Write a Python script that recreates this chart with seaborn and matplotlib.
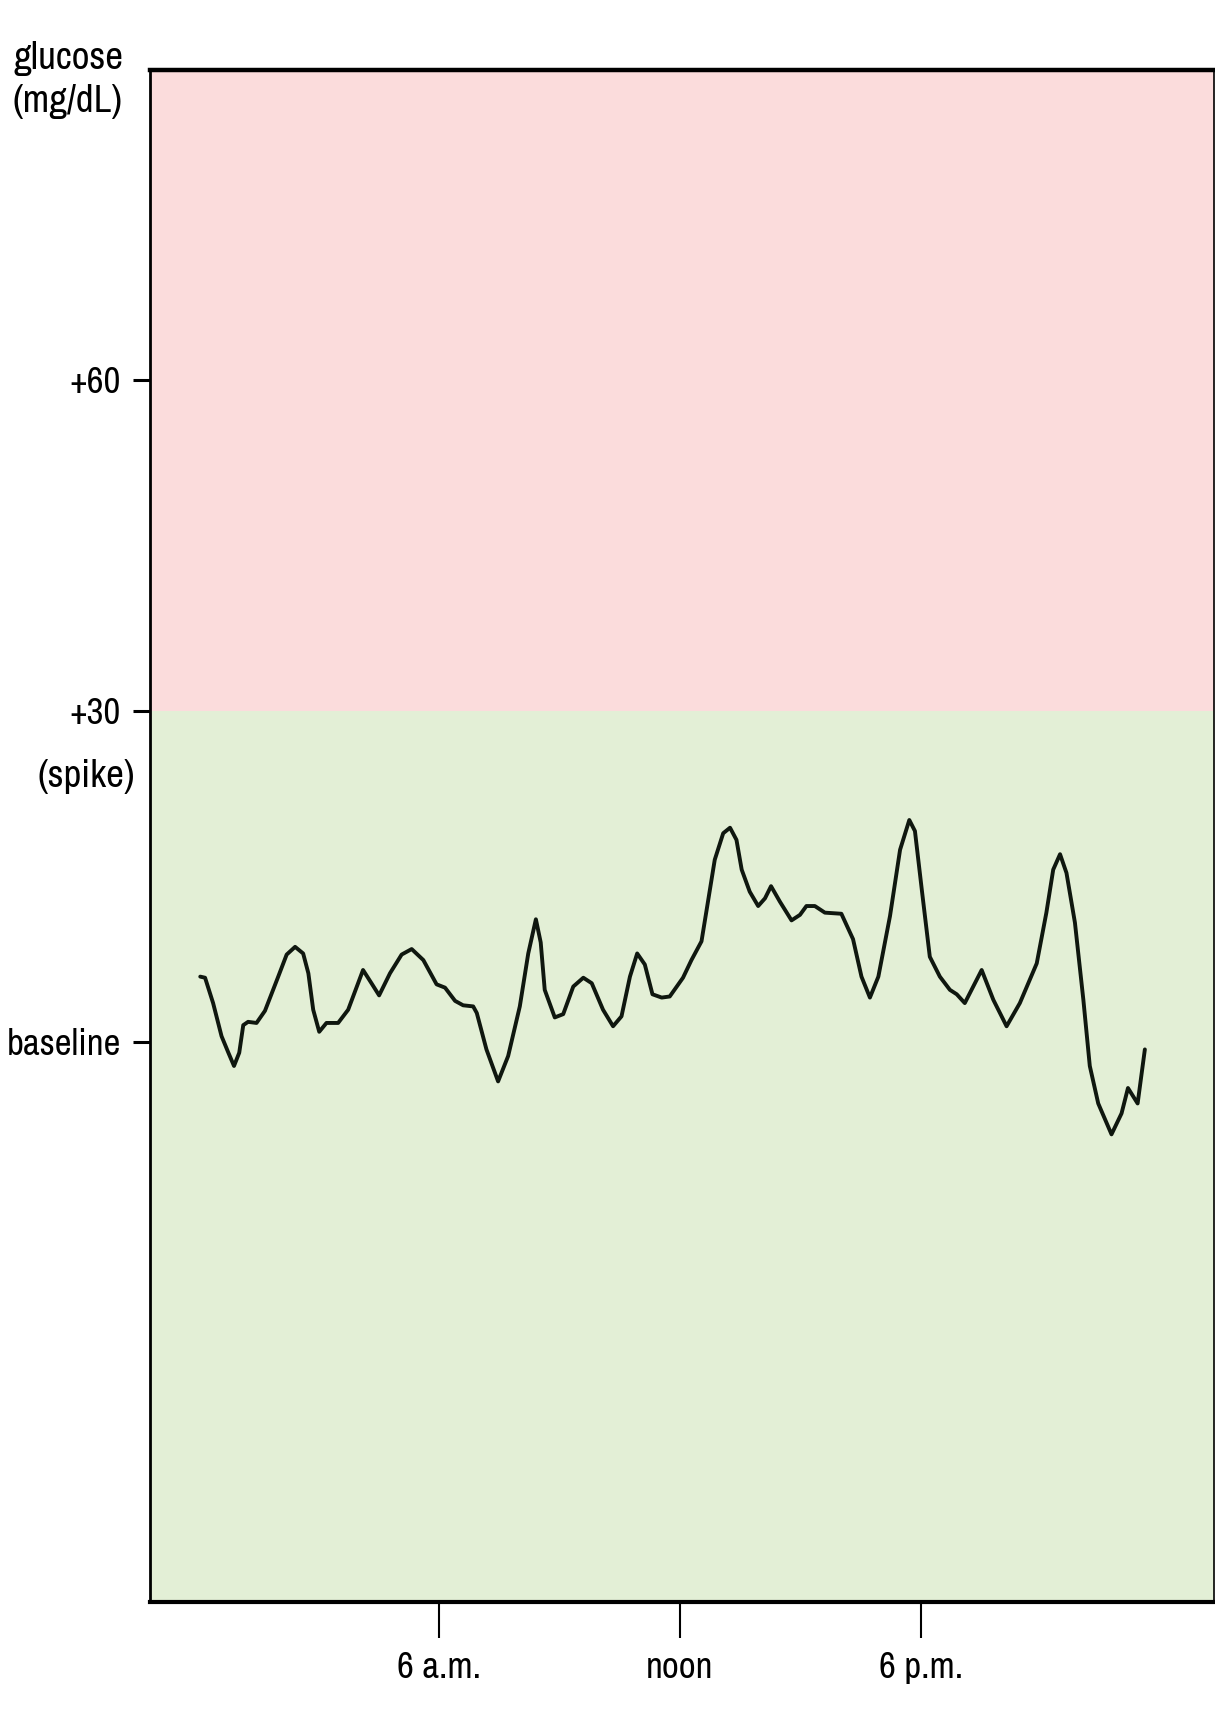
import matplotlib
matplotlib.use("Agg")
import matplotlib.pyplot as plt
import matplotlib.transforms as mtransforms
from matplotlib import font_manager
import seaborn as sns

# ---- data ----
hours = [0.07, 0.19, 0.39, 0.60, 0.77, 0.91, 1.04, 1.14, 1.26, 1.47, 1.68, 2.01, 2.22, 2.43,
         2.63, 2.76, 2.88, 3.03, 3.21, 3.50, 3.75, 4.12, 4.33, 4.52, 4.79, 5.08, 5.33, 5.62,
         5.95, 6.16, 6.41, 6.61, 6.86, 6.95, 7.19, 7.48, 7.73, 8.02, 8.23, 8.42, 8.54, 8.64,
         8.89, 9.10, 9.35, 9.60, 9.81, 10.09, 10.34, 10.55, 10.76, 10.94, 11.13, 11.32, 11.55,
         11.75, 12.08, 12.29, 12.54, 12.67, 12.87, 13.08, 13.25, 13.41, 13.54, 13.74, 13.95,
         14.12, 14.27, 14.49, 14.78, 14.99, 15.15, 15.36, 15.61, 16.02, 16.31, 16.52, 16.73,
         16.94, 17.23, 17.48, 17.71, 17.85, 18.02, 18.22, 18.47, 18.72, 18.89, 19.09, 19.30,
         19.51, 19.80, 20.13, 20.46, 20.88, 21.12, 21.29, 21.46, 21.62, 21.83, 22.04, 22.20,
         22.41, 22.74, 22.99, 23.15, 23.39, 23.57]
glucose_delta = [5.9, 5.8, 3.5, 0.5, -1.0, -2.2, -1.0, 1.5, 1.8, 1.7, 2.8, 5.9, 7.9, 8.6,
                 8.0, 6.2, 2.9, 0.9, 1.7, 1.7, 2.9, 6.5, 5.3, 4.2, 6.2, 7.9, 8.4, 7.4,
                 5.2, 4.9, 3.7, 3.3, 3.2, 2.6, -0.7, -3.6, -1.3, 3.2, 8.0, 11.1, 9.0, 4.7,
                 2.2, 2.5, 5.0, 5.8, 5.3, 2.9, 1.4, 2.3, 5.9, 8.0, 7.0, 4.3, 4.0,
                 4.1, 5.8, 7.4, 9.1, 12.0, 16.5, 18.9, 19.4, 18.3, 15.6, 13.6, 12.3,
                 13.0, 14.1, 12.7, 11.0, 11.5, 12.3, 12.3, 11.7, 11.6, 9.3, 5.9, 4.0,
                 5.9, 11.4, 17.4, 20.1, 19.1, 13.8, 7.7, 5.9, 4.7, 4.3, 3.5, 5.0,
                 6.5, 3.8, 1.4, 3.5, 7.1, 11.7, 15.6, 17.0, 15.3, 10.8, 3.8, -2.2,
                 -5.6, -8.4, -6.5, -4.2, -5.6, -0.7]

ytick_values = [0, 30, 60]
ytick_labels = ["baseline", "+30", "+60"]
xtick_values = [6, 12, 18]
xtick_labels = ["6 a.m.", "noon", "6 p.m."]
spike_threshold = 30

# ---- style ----
sns.set_style("white")

# prefer a condensed face if one is installed
condensed = None
for f in font_manager.fontManager.ttflist:
    if ("Narrow" in f.name or "Condensed" in f.name) and f.style == "normal":
        condensed = f.name
        break
if condensed:
    plt.rcParams["font.family"] = [condensed, "Liberation Sans", "DejaVu Sans"]
    FS_TICK, FS_TXT = 26.5, 28
else:
    plt.rcParams["font.family"] = ["Liberation Sans", "DejaVu Sans"]
    FS_TICK, FS_TXT = 22.5, 23

W, H = 1215, 1713
fig = plt.figure(figsize=(W / 100, H / 100), dpi=100)
ax = fig.add_axes([150 / W, 1 - 1602 / H, 1064 / W, (1602 - 70) / H])

ax.set_xlim(-1.18, 25.29)
ax.set_ylim(-50.8, 88.1)

ax.axhspan(spike_threshold, 88.1, color="#fbdcdc", zorder=0, lw=0)
ax.axhspan(-50.8, spike_threshold, color="#e3efd6", zorder=0, lw=0)

sns.lineplot(x=hours, y=glucose_delta, ax=ax, color="#0f170f", linewidth=2.8, zorder=3,
             solid_joinstyle="round", solid_capstyle="round")

ax.set_yticks(ytick_values)
ax.set_yticklabels(ytick_labels)
ax.set_xticks(xtick_values)
ax.set_xticklabels(xtick_labels)

ax.tick_params(axis="y", direction="out", length=12, width=2.2, pad=9, labelsize=FS_TICK,
               colors="black", left=True)
ax.tick_params(axis="x", direction="out", length=26, width=1.5, pad=9, labelsize=FS_TICK,
               colors="black", bottom=True)

for side, lw in {"top": 3.2, "bottom": 3.0, "left": 2.0, "right": 1.2}.items():
    ax.spines[side].set_visible(True)
    ax.spines[side].set_color("black")
    ax.spines[side].set_linewidth(lw)

ax.set_xlabel("")
ax.set_ylabel("")

trans = mtransforms.blended_transform_factory(fig.transFigure, ax.transData)
ax.text(86 / W, 24.0, "(spike)", transform=trans, ha="center", va="center",
        fontsize=FS_TXT, color="black")

fig.text(68 / W, 1 - 80 / H, "glucose\n(mg/dL)", ha="center", va="center",
         fontsize=FS_TXT, linespacing=1.3, color="black")

fig.savefig("out.png", dpi=100)
